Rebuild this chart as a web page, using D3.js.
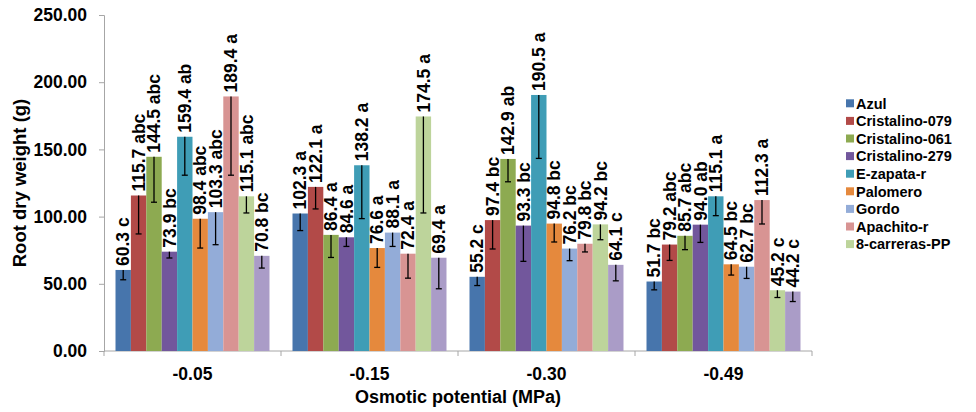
<!DOCTYPE html>
<html>
<head>
<meta charset="utf-8">
<script src="https://cdn.jsdelivr.net/npm/d3@7"></script>
<style>
  html, body { margin: 0; padding: 0; background: #fff; }
  svg { display: block; }
  text { font-family: "Liberation Sans", Arial, sans-serif; font-weight: bold; fill: #000; }
</style>
</head>
<body>
<svg id="chart" width="976" height="412"></svg>
<script>
// Osmotic potential treatments (x categories)
const groups = ["-0.05", "-0.15", "-0.30", "-0.49"];

// Cultivar names shown in the legend
const legendNames = ["Azul", "Cristalino-079", "Cristalino-061", "Cristalino-279",
  "E-zapata-r", "Palomero", "Gordo", "Apachito-r", "8-carreras-PP"];

// Bar colours, one per series (ten series)
const colors = ["#4775AC", "#B24A48", "#8DAA51", "#72579C", "#3F9DB6",
  "#E5893D", "#93ACD8", "#D89493", "#BDD49B", "#AA9CC7"];

// Mean root dry weight (g), one row per series, one value per treatment
const rootWeight = [
  [60.3, 102.3, 55.2, 51.7],
  [115.7, 122.1, 97.4, 79.2],
  [144.5, 86.4, 142.9, 85.7],
  [73.9, 84.6, 93.3, 94.0],
  [159.4, 138.2, 190.5, 115.1],
  [98.4, 76.6, 94.8, 64.5],
  [103.3, 88.1, 76.2, 62.7],
  [189.4, 72.4, 79.8, 112.3],
  [115.1, 174.5, 94.2, 45.2],
  [70.8, 69.4, 64.1, 44.2]
];

// Standard error (drawn below the bar top)
const stdError = [
  [7.3, 12.7, 6.5, 6.2],
  [28.6, 16.4, 21.5, 11.8],
  [33.8, 16.8, 17.0, 10.3],
  [4.7, 6.8, 26.6, 13.2],
  [28.6, 39.7, 47.2, 14.4],
  [21.8, 14.4, 13.7, 8.0],
  [24.2, 10.3, 9.0, 8.7],
  [58.6, 18.2, 6.1, 17.8],
  [12.4, 71.8, 11.4, 5.4],
  [9.1, 23.1, 11.9, 7.4]
];

// Mean-separation letters
const letters = [
  ["c", "a", "c", "bc"],
  ["abc", "a", "bc", "abc"],
  ["abc", "a", "ab", "abc"],
  ["bc", "a", "bc", "ab"],
  ["ab", "a", "a", "a"],
  ["abc", "a", "bc", "bc"],
  ["abc", "a", "bc", "bc"],
  ["a", "a", "bc", "a"],
  ["abc", "a", "bc", "c"],
  ["bc", "a", "c", "c"]
];

const yTicks = [0, 50, 100, 150, 200, 250];

(function draw() {
  const svg = d3.select("#chart");
  const mLeft = 104, mRight = 812, mTop = 15, mBottom = 351;
  const axisColor = "#a6a6a6";

  const x0 = d3.scaleBand().domain(groups).range([mLeft, mRight])
    .paddingInner(0.13).paddingOuter(0.065);
  const x1 = d3.scaleBand().domain(d3.range(rootWeight.length))
    .range([0, x0.bandwidth()]).padding(0);
  const y = d3.scaleLinear().domain([0, 250]).range([mBottom, mTop]);

  // Y axis
  const yAxis = svg.append("g").attr("transform", `translate(${mLeft},0)`)
    .call(d3.axisLeft(y).tickValues(yTicks).tickFormat(d3.format(".2f")).tickSize(5).tickPadding(12));
  yAxis.select(".domain").attr("stroke", axisColor).attr("stroke-width", 1);
  yAxis.selectAll(".tick line").attr("stroke", axisColor);
  yAxis.selectAll(".tick text").style("font-size", "17.5px");

  // X axis: baseline with boundary ticks between groups
  const xg = svg.append("g");
  xg.append("line").attr("x1", mLeft).attr("x2", mRight).attr("y1", mBottom).attr("y2", mBottom)
    .attr("stroke", axisColor);
  const bounds = groups.map(g => x0(g) - x0.step() * x0.paddingOuter()).concat([mRight]);
  xg.selectAll("line.b").data(bounds).join("line").attr("class", "b")
    .attr("x1", d => d).attr("x2", d => d).attr("y1", mBottom).attr("y2", mBottom + 5)
    .attr("stroke", axisColor);
  xg.selectAll("text.cat").data(groups).join("text").attr("class", "cat")
    .attr("x", d => x0(d) + x0.bandwidth() / 2).attr("y", 380)
    .attr("text-anchor", "middle").style("font-size", "17.5px").text(d => d);

  // Bars, error bars and value labels
  const cells = [];
  rootWeight.forEach((row, s) => row.forEach((v, g) => cells.push({
    s, g, v, e: stdError[s][g], l: letters[s][g]
  })));
  const cx = d => x0(groups[d.g]) + x1(d.s);
  const bw = x1.bandwidth();

  svg.append("g").selectAll("rect").data(cells).join("rect")
    .attr("x", d => cx(d)).attr("y", d => y(d.v))
    .attr("width", bw).attr("height", d => mBottom - y(d.v))
    .attr("fill", d => colors[d.s]);

  const eb = svg.append("g").attr("stroke", "#000").attr("stroke-width", 1.3);
  eb.selectAll("line.v").data(cells).join("line").attr("class", "v")
    .attr("x1", d => cx(d) + bw / 2).attr("x2", d => cx(d) + bw / 2)
    .attr("y1", d => y(d.v)).attr("y2", d => y(d.v - d.e));
  eb.selectAll("line.c").data(cells).join("line").attr("class", "c")
    .attr("x1", d => cx(d) + bw / 2 - 3).attr("x2", d => cx(d) + bw / 2 + 3)
    .attr("y1", d => y(d.v - d.e)).attr("y2", d => y(d.v - d.e));

  svg.append("g").selectAll("text").data(cells).join("text")
    .attr("transform", d => `translate(${cx(d) + bw / 2},${y(d.v) - 4}) rotate(-90)`)
    .attr("dy", "0.35em").attr("text-anchor", "start")
    .style("font-size", "17.5px")
    .text(d => `${d.v.toFixed(1)} ${d.l}`);

  // Axis titles
  svg.append("text").attr("x", (mLeft + mRight) / 2).attr("y", 403)
    .attr("text-anchor", "middle").style("font-size", "18px").text("Osmotic potential (MPa)");
  svg.append("text").attr("transform", `translate(26,${(mTop + mBottom) / 2}) rotate(-90)`)
    .attr("text-anchor", "middle").style("font-size", "18.5px").text("Root dry weight (g)");

  // Legend
  const lg = svg.append("g").attr("transform", "translate(846,103.3)");
  const rows = lg.selectAll("g").data(legendNames).join("g")
    .attr("transform", (d, i) => `translate(0,${i * 17.6})`);
  rows.append("rect").attr("x", 0).attr("y", -4).attr("width", 8).attr("height", 8)
    .attr("fill", (d, i) => colors[i]);
  rows.append("text").attr("x", 10).attr("dy", "0.36em").style("font-size", "14.5px").text(d => d);
})();
</script>
</body>
</html>
